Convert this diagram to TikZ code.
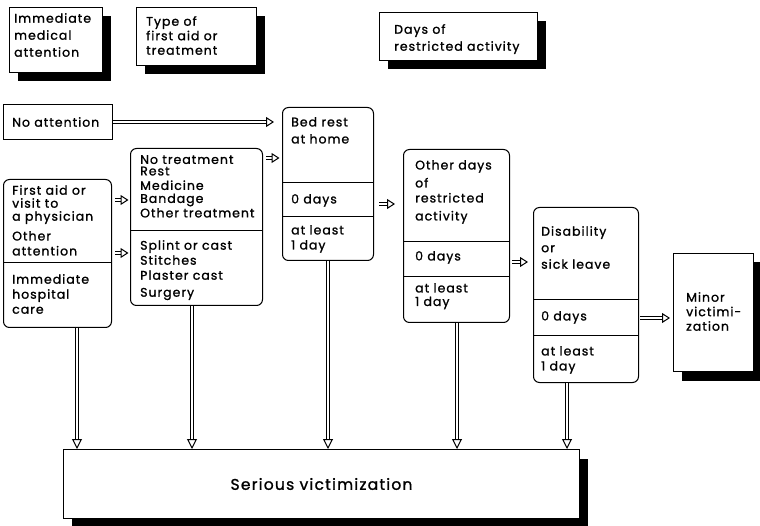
\documentclass[tikz,border=0pt]{standalone}
\usepackage{fontspec}
\setmainfont{Poppins}[LetterSpace=8, FakeBold=1.2]
\usetikzlibrary{arrows.meta,shadows}
\begin{document}
\begin{tikzpicture}[x=1pt,y=-1pt,
  every node/.style={inner sep=0pt},
  frame/.style={draw, line width=1pt, fill=white, anchor=north west},
  rbox/.style={frame, rounded corners=6pt},
  shad/.style={frame, drop shadow={shadow xshift=8pt,shadow yshift=-9pt,fill=black,opacity=1}},
  txt/.style={anchor=north west, align=left, font=\fontsize{12.5}{15}\selectfont},
  hollow/.style={double, double distance=2.4pt, line width=0.9pt,
     -{Triangle[open,fill=white,line width=1pt,length=8pt,width=10pt]}},
  vhollow/.style={hollow, -{Triangle[open,fill=white,line width=1pt,length=10pt,width=10pt]}},
  divider/.style={line width=1pt}]
\useasboundingbox (0,0) rectangle (760,526);

% header boxes
\node[shad, minimum width=93pt, minimum height=65pt] (h1) at (9,7) {};
\node[txt, font=\fontsize{12.5}{17}\selectfont] (h1t) at (14,13) {Immediate\\medical\\attention};
\node[shad, minimum width=120pt, minimum height=58pt] (h2) at (136,7) {};
\node[txt, font=\fontsize{12.5}{14.5}\selectfont] (h2t) at (146,16) {Type of\\first aid or\\treatment};
\node[shad, minimum width=158pt, minimum height=48pt] (h3) at (379,12) {};
\node[txt, font=\fontsize{12.5}{17}\selectfont] (h3t) at (394,24) {Days of\\restricted activity};

% no attention
\node[frame, minimum width=109pt, minimum height=35pt] (na) at (3,104) {};
\node[txt, anchor=west] (nat) at (12,122) {No attention};

% first aid
\node[rbox, minimum width=108pt, minimum height=148pt] (fa) at (3,179) {};
\draw[divider] (fa.west |- 0,263) -- (fa.east |- 0,263);
\node[txt, font=\fontsize{12.5}{13}\selectfont] (fat1) at (12,185) {First aid or\\visit to\\a physician};
\node[txt] (fat2) at (12,231) {Other\\attention};
\node[txt] (fat3) at (12,274) {Immediate\\hospital\\care};

% treatment
\node[rbox, minimum width=132pt, minimum height=157pt] (tr) at (130,148) {};
\draw[divider] (tr.west |- 0,231) -- (tr.east |- 0,231);
\node[txt, font=\fontsize{12.5}{14.5}\selectfont] (trt1) at (140,155) {No treatment\\[-3pt]Rest\\[0pt]Medicine\\[-1.5pt]Bandage\\Other treatment};
\node[txt] (trt2) at (140,240) {Splint or cast\\Stitches\\Plaster cast\\[2pt]Surgery};

% bed rest
\node[rbox, minimum width=91pt, minimum height=153pt] (bed) at (282,107) {};
\draw[divider] (bed.west |- 0,183) -- (bed.east |- 0,183);
\draw[divider] (bed.west |- 0,217) -- (bed.east |- 0,217);
\node[txt, font=\fontsize{12.5}{17}\selectfont] (bedt1) at (291,117) {Bed rest\\at home};
\node[txt] (bedt2) at (291,194) {0 days};
\node[txt] (bedt3) at (291,225) {at least\\1 day};

% other days
\node[rbox, minimum width=106pt, minimum height=173pt] (od) at (403,149) {};
\draw[divider] (od.west |- 0,242) -- (od.east |- 0,242);
\draw[divider] (od.west |- 0,277) -- (od.east |- 0,277);
\node[txt] (odt1) at (415,160) {Other days\\[3pt]of\\restricted\\[3pt]activity};
\node[txt] (odt2) at (415,251) {0 days};
\node[txt, font=\fontsize{12.5}{13.5}\selectfont] (odt3) at (415,283) {at least\\1 day};

% disability
\node[rbox, minimum width=105pt, minimum height=175pt] (dis) at (533,207) {};
\draw[divider] (dis.west |- 0,300) -- (dis.east |- 0,300);
\draw[divider] (dis.west |- 0,336) -- (dis.east |- 0,336);
\node[txt, font=\fontsize{12.5}{16.5}\selectfont] (dist1) at (541,226) {Disability\\or\\sick leave};
\node[txt] (dist2) at (541,311) {0 days};
\node[txt] (dist3) at (541,346) {at least\\1 day};

% minor
\node[shad, minimum width=80pt, minimum height=118pt] (mi) at (673,253) {};
\node[txt, font=\fontsize{12.5}{14.5}\selectfont] (mit) at (686,292) {Minor\\victimi-\\zation};

% serious
\node[shad, minimum width=516pt, minimum height=69pt, font=\fontsize{15.5}{17}\selectfont] (ser) at (63,449) {Serious victimization};

% level coordinates
\coordinate (ya) at (0,200);
\coordinate (yb) at (0,253);
\coordinate (yc) at (0,158);
\coordinate (yd) at (0,204);
\coordinate (ye) at (0,262);
\coordinate (yf) at (0,318);
\coordinate (x1) at (77,0);
\coordinate (x2) at (192,0);
\coordinate (x3) at (328,0);
\coordinate (x4) at (457,0);
\coordinate (x5) at (567,0);

% horizontal arrows
\draw[hollow, shorten >=8pt] (na.east) -- (na.east -| bed.west);
\draw[hollow, shorten <=3pt, shorten >=1.5pt] (fa.east |- ya) -- (tr.west |- ya);
\draw[hollow, shorten <=3pt, shorten >=1.5pt] (fa.east |- yb) -- (tr.west |- yb);
\draw[hollow, shorten <=3pt, shorten >=2.5pt] (tr.east |- yc) -- (bed.west |- yc);
\draw[hollow, shorten <=5pt, shorten >=8pt] (bed.east |- yd) -- (od.west |- yd);
\draw[hollow, shorten <=2pt, shorten >=5pt] (od.east |- ye) -- (dis.west |- ye);
\draw[hollow, shorten <=1pt, shorten >=3pt] (dis.east |- yf) -- (mi.west |- yf);

% vertical arrows
\draw[vhollow] (fa.south -| x1) -- (ser.north -| x1);
\draw[vhollow] (tr.south -| x2) -- (ser.north -| x2);
\draw[vhollow] (bed.south -| x3) -- (ser.north -| x3);
\draw[vhollow] (od.south -| x4) -- (ser.north -| x4);
\draw[vhollow] (dis.south -| x5) -- (ser.north -| x5);
\end{tikzpicture}
\end{document}
